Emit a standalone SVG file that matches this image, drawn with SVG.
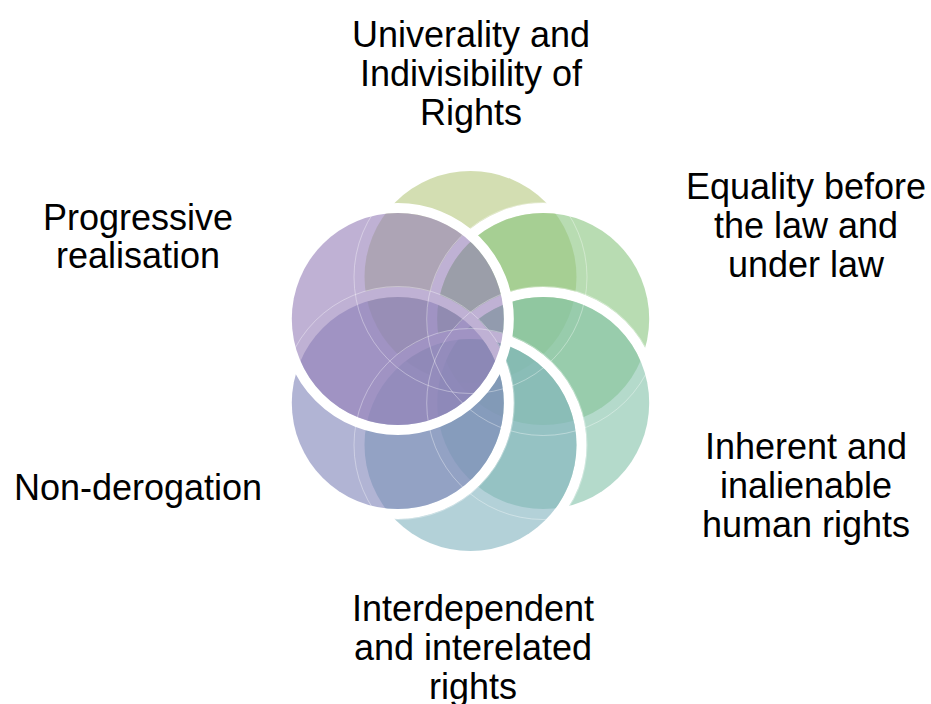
<svg xmlns="http://www.w3.org/2000/svg" width="931" height="704" viewBox="0 0 931 704">
  <style>
    .ring { fill: none; stroke: #ffffff; stroke-width: 10; }
    .disc { fill-opacity: 0.6; }
    .seam { fill: none; stroke: #ffffff; stroke-opacity: 0.4; stroke-width: 0.9; }
    text { font-family: "Liberation Sans", Arial, sans-serif; font-size: 36px; fill: #000000; text-anchor: middle; }
  </style>

  <rect width="931" height="704" fill="#ffffff"/>

  <!-- Six interconnected rings, painted from the top clockwise; each later ring's white rim cuts the earlier ones -->
  <g id="node-universality">
    <circle class="ring" cx="470.5" cy="277" r="111"/>
    <circle class="disc" cx="470.5" cy="277" r="106" fill="#b6c87f"/>
    <text x="471" y="47">Univerality and</text>
    <text x="471" y="86">Indivisibility of</text>
    <text x="471" y="125">Rights</text>
  </g>

  <g id="node-equality">
    <circle class="ring" cx="543.2" cy="319" r="111"/>
    <circle class="disc" cx="543.2" cy="319" r="106" fill="#89c57f"/>
    <text x="806" y="199">Equality before</text>
    <text x="806" y="238">the law and</text>
    <text x="806" y="277">under law</text>
  </g>

  <g id="node-inherent">
    <circle class="ring" cx="543.2" cy="403" r="111"/>
    <circle class="disc" cx="543.2" cy="403" r="106" fill="#82c1a8"/>
    <text x="806" y="459">Inherent and</text>
    <text x="806" y="498">inalienable</text>
    <text x="806" y="537">human rights</text>
  </g>

  <g id="node-interdependent">
    <circle class="ring" cx="470.5" cy="445" r="111"/>
    <circle class="disc" cx="470.5" cy="445" r="106" fill="#80b2be"/>
    <text x="473" y="621">Interdependent</text>
    <text x="473" y="660">and interelated</text>
    <text x="473" y="699">rights</text>
  </g>

  <g id="node-non-derogation">
    <circle class="ring" cx="397.8" cy="403" r="111"/>
    <circle class="disc" cx="397.8" cy="403" r="106" fill="#7d82b7"/>
    <text x="138" y="500">Non-derogation</text>
  </g>

  <g id="node-progressive">
    <circle class="ring" cx="397.8" cy="319" r="111"/>
    <circle class="disc" cx="397.8" cy="319" r="106" fill="#947db7"/>
    <text x="138" y="230">Progressive</text>
    <text x="138" y="268">realisation</text>
  </g>

  <!-- Fine light seams along the outer rim edges, showing through the tinted fills above them -->
  <g id="rim-seams">
    <circle class="seam" cx="470.5" cy="277" r="116.5"/>
    <circle class="seam" cx="543.2" cy="319" r="116.5"/>
    <circle class="seam" cx="543.2" cy="403" r="116.5"/>
    <circle class="seam" cx="470.5" cy="445" r="116.5"/>
    <circle class="seam" cx="397.8" cy="403" r="116.5"/>
  </g>
</svg>
